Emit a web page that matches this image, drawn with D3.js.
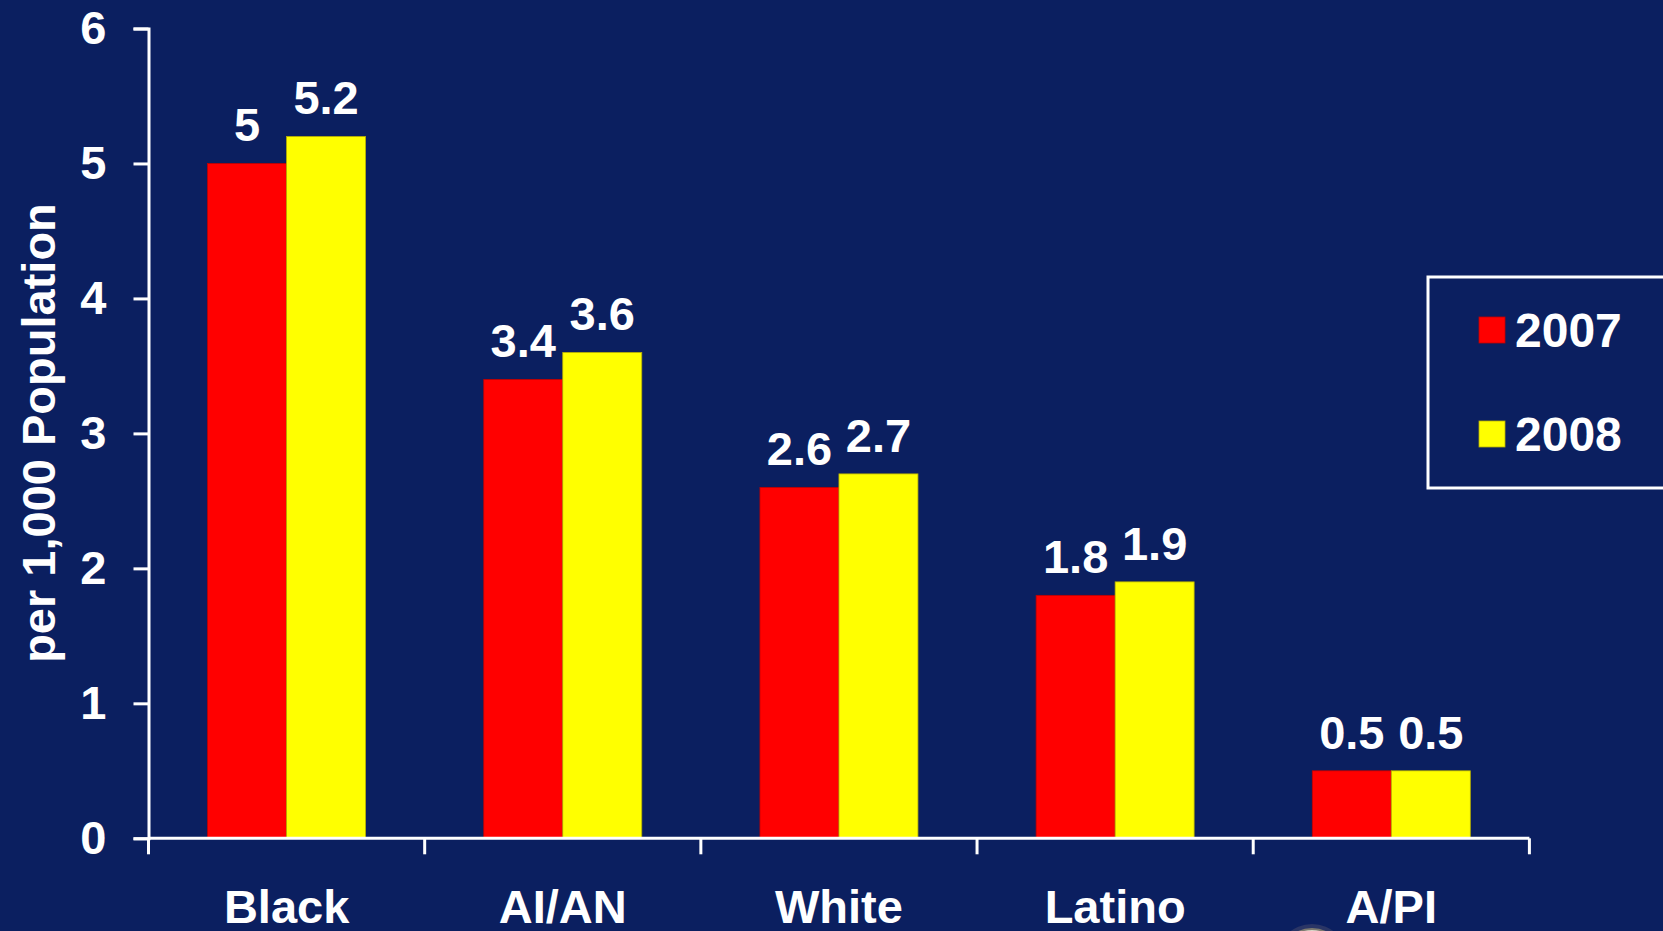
<!DOCTYPE html>
<html>
<head>
<meta charset="utf-8">
<script src="https://cdn.jsdelivr.net/npm/d3@7"></script>
<style>
  html, body { margin: 0; padding: 0; background: #0b1f60; overflow: hidden; }
  svg { display: block; }
  text { font-family: "Liberation Sans", Arial, Helvetica, sans-serif; font-weight: bold; fill: #ffffff; }
</style>
</head>
<body>
<svg id="chart" width="1663" height="931"></svg>
<script>
// Rates per 1,000 population, by group and year
const categories = ["Black", "AI/AN", "White", "Latino", "A/PI"];
const seriesNames = ["2007", "2008"];
const values2007 = [5, 3.4, 2.6, 1.8, 0.5];
const values2008 = [5.2, 3.6, 2.7, 1.9, 0.5];
const yTicks = [0, 1, 2, 3, 4, 5, 6];
const yTitle = "per 1,000 Population";

const seriesValues = [values2007, values2008];
const seriesColors = ["#ff0000", "#ffff00"];
const seriesStroke = ["#c00000", "#b8b000"];

const W = 1663, H = 931;
const plot = { left: 148.5, right: 1529.4, top: 28.5, bottom: 838.3 };
const FONT = 47;

const svg = d3.select("#chart");
svg.append("rect").attr("width", W).attr("height", H).attr("fill", "#0b1f60");

const x = d3.scaleBand().domain(categories).range([plot.left, plot.right]).padding(0);
const xSub = d3.scaleBand().domain(seriesNames).range([0, x.bandwidth()])
  .paddingInner(0).paddingOuter(0.748);
const y = d3.scaleLinear().domain([0, 6]).range([plot.bottom, plot.top]);

// Bars
const rows = categories.map((c, i) => ({ cat: c, vals: seriesNames.map((s, k) => ({ s, k, v: seriesValues[k][i] })) }));
const groups = svg.append("g").selectAll("g").data(rows).join("g")
  .attr("transform", d => `translate(${x(d.cat)},0)`);

groups.selectAll("rect").data(d => d.vals).join("rect")
  .attr("x", d => xSub(d.s))
  .attr("y", d => y(d.v))
  .attr("width", xSub.bandwidth())
  .attr("height", d => y(0) - y(d.v))
  .attr("fill", d => seriesColors[d.k])
  .attr("stroke", d => seriesStroke[d.k])
  .attr("stroke-width", 0.8);

// Value labels
groups.selectAll("text").data(d => d.vals).join("text")
  .attr("x", d => xSub(d.s) + xSub.bandwidth() / 2)
  .attr("y", d => y(d.v) - 22)
  .attr("text-anchor", "middle")
  .attr("font-size", FONT)
  .text(d => d.v);

// Y axis
const yAxis = svg.append("g")
  .attr("transform", `translate(${plot.left},0)`)
  .call(d3.axisLeft(y).tickValues(yTicks).tickFormat(d3.format("d")).tickSize(15).tickPadding(27));
yAxis.selectAll("path, line").attr("stroke", "#ffffff").attr("stroke-width", 3);
yAxis.selectAll("text").attr("font-size", FONT).attr("fill", "#ffffff")
  .style("font-family", "'Liberation Sans', Arial, sans-serif").style("font-weight", "bold");

// X axis line with ticks between the groups
const xAxis = svg.append("g").attr("transform", `translate(0,${plot.bottom})`);
xAxis.append("line")
  .attr("x1", plot.left).attr("x2", plot.right)
  .attr("stroke", "#ffffff").attr("stroke-width", 3);
const bounds = categories.map(c => x(c)).concat([x(categories[categories.length - 1]) + x.bandwidth()]);
xAxis.selectAll("line.tick").data(bounds).join("line")
  .attr("class", "tick")
  .attr("x1", d => d).attr("x2", d => d)
  .attr("y1", 0).attr("y2", 16)
  .attr("stroke", "#ffffff").attr("stroke-width", 3);
xAxis.selectAll("text").data(categories).join("text")
  .attr("x", d => x(d) + x.bandwidth() / 2)
  .attr("y", 85)
  .attr("text-anchor", "middle")
  .attr("font-size", FONT)
  .text(d => d);

// Y axis title
svg.append("text")
  .attr("transform", "translate(55,433) rotate(-90)")
  .attr("text-anchor", "middle")
  .attr("font-size", 47)
  .text(yTitle);

// Legend
const legend = svg.append("g");
legend.append("rect")
  .attr("x", 1428).attr("y", 277)
  .attr("width", 300).attr("height", 211)
  .attr("fill", "none").attr("stroke", "#ffffff").attr("stroke-width", 3);
const legendRows = [317, 421];
seriesNames.forEach((s, k) => {
  legend.append("rect")
    .attr("x", 1479).attr("y", legendRows[k])
    .attr("width", 26).attr("height", 26)
    .attr("fill", seriesColors[k])
    .attr("stroke", seriesStroke[k]).attr("stroke-width", 0.8);
  legend.append("text")
    .attr("x", 1515).attr("y", legendRows[k] + 30)
    .attr("font-size", FONT + 1)
    .text(s);
});

// Partially visible seal at the bottom edge
const seal = svg.append("g").attr("transform", "translate(1312,960)");
seal.append("circle").attr("r", 36).attr("fill", "#2a3566");
seal.append("circle").attr("r", 31).attr("fill", "#d9d5c7").attr("stroke", "#7d7a70").attr("stroke-width", 2);
seal.append("circle").attr("r", 22).attr("fill", "none").attr("stroke", "#8a877c").attr("stroke-width", 1);
</script>
</body>
</html>
